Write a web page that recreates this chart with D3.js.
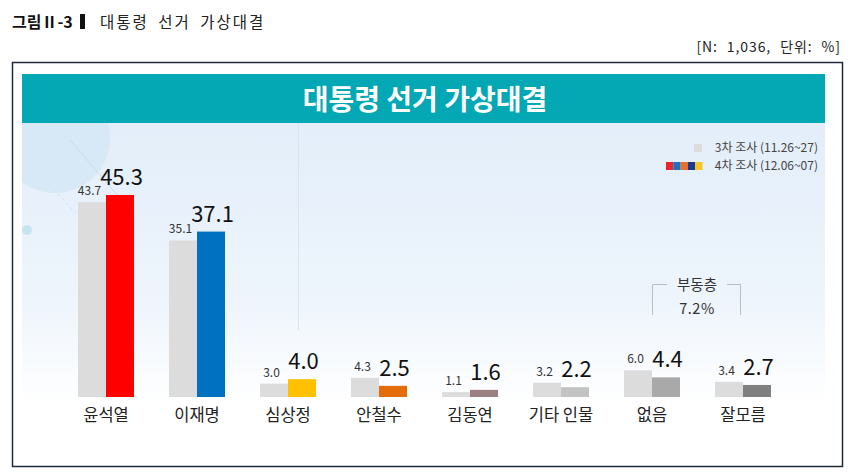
<!DOCTYPE html>
<html>
<head>
<meta charset="utf-8">
<script src="https://cdn.jsdelivr.net/npm/d3@7"></script>
<style>
  body { margin: 0; background: #fff; }
  text { font-family: "Noto Sans CJK KR", "Noto Sans", sans-serif; }
</style>
</head>
<body>
<div id="chart"></div>
<script>
var categories = ["윤석열", "이재명", "심상정", "안철수", "김동연", "기타 인물", "없음", "잘모름"];
var round3 = [43.7, 35.1, 3.0, 4.3, 1.1, 3.2, 6.0, 3.4];
var round4 = [45.3, 37.1, 4.0, 2.5, 1.6, 2.2, 4.4, 2.7];
var round4Colors = ["#ff0000", "#0070c0", "#ffc000", "#e46c0a", "#9b7f83", "#c3c3c3", "#a9a9a9", "#808080"];
var seriesNames = ["3차 조사 (11.26~27)", "4차 조사 (12.06~07)"];
var legendSwatches = ["#e8252a", "#1f6fbf", "#e8702a", "#1c3a8c", "#f6c624"];
var floatingLabel = ["부동층", "7.2%"];

var width = 859, height = 475,
    baseY = 397;

var svg = d3.select("#chart").append("svg")
    .attr("width", width)
    .attr("height", height);

var defs = svg.append("defs");
var grad = defs.append("linearGradient")
    .attr("id", "bg").attr("x1", 0).attr("y1", 0).attr("x2", 0).attr("y2", 1);
grad.append("stop").attr("offset", "0%").attr("stop-color", "#e3eefa");
grad.append("stop").attr("offset", "55%").attr("stop-color", "#eef5fc");
grad.append("stop").attr("offset", "85%").attr("stop-color", "#ffffff");

defs.append("clipPath").attr("id", "plotclip")
  .append("rect").attr("x", 22).attr("y", 123).attr("width", 803).attr("height", 330);

// figure caption
var cap = svg.append("text").attr("x", 12).attr("y", 28).attr("font-size", 16).attr("fill", "#111");
cap.append("tspan").attr("font-weight", "bold").text("그림Ⅱ-3");
svg.append("rect").attr("x", 80).attr("y", 14).attr("width", 5).attr("height", 15).attr("fill", "#111");
svg.append("text").attr("x", 100).attr("y", 28).attr("font-size", 15.5).attr("fill", "#222")
    .attr("letter-spacing", 2).attr("word-spacing", 4)
    .text("대통령 선거 가상대결");

svg.append("text").attr("x", 841).attr("y", 52).attr("text-anchor", "end")
    .attr("font-size", 14).attr("fill", "#222")
    .attr("letter-spacing", 0.9).attr("word-spacing", 5)
    .text("[N: 1,036, 단위: %]");

// frame
svg.append("rect").attr("x", 12.5).attr("y", 62.5).attr("width", 830).attr("height", 404)
    .attr("fill", "#fff").attr("stroke", "#1e2a3a").attr("stroke-width", 1.5);

// plot background
svg.append("rect").attr("x", 22).attr("y", 123).attr("width", 803).attr("height", 330)
    .attr("fill", "url(#bg)");

var deco = svg.append("g").attr("clip-path", "url(#plotclip)");
deco.append("circle").attr("cx", 55).attr("cy", 138).attr("r", 55).attr("fill", "#d3e6f6").attr("opacity", 0.8);
deco.append("circle").attr("cx", 27).attr("cy", 230).attr("r", 5).attr("fill", "#c6e4ef");
deco.append("line").attr("x1", 70).attr("y1", 140).attr("x2", 130).attr("y2", 210)
    .attr("stroke", "#c9dcec").attr("stroke-width", 1);
deco.append("line").attr("x1", 50).attr("y1", 185).attr("x2", 100).attr("y2", 240)
    .attr("stroke", "#d3e2ee").attr("stroke-width", 1).attr("stroke-dasharray", "3,3");
deco.append("line").attr("x1", 298.5).attr("y1", 123).attr("x2", 298.5).attr("y2", 330)
    .attr("stroke", "#d8e5f0").attr("stroke-width", 1);

// header band
svg.append("rect").attr("x", 22).attr("y", 74).attr("width", 803).attr("height", 49).attr("fill", "#04a7b4");
svg.append("text").attr("x", 425).attr("y", 110).attr("text-anchor", "middle")
    .attr("font-size", 28).attr("font-weight", "bold").attr("fill", "#fff")
    .text("대통령 선거 가상대결");

// scales
var x0 = d3.scaleBand()
    .domain(categories)
    .range([60.5, 788.5])
    .paddingInner(35 / 91)
    .paddingOuter(35 / 182);

var x1 = d3.scaleBand()
    .domain(["r3", "r4"])
    .range([0, x0.bandwidth()]);

var y = d3.scaleLinear()
    .domain([0, 45.3])
    .range([baseY, 195]);

var groups = svg.selectAll(".grp")
    .data(categories)
    .enter().append("g")
    .attr("class", "grp")
    .attr("transform", function(d) { return "translate(" + x0(d) + ",0)"; });

groups.append("rect")
    .attr("x", x1("r3"))
    .attr("y", function(d, i) { return y(round3[i]); })
    .attr("width", x1.bandwidth())
    .attr("height", function(d, i) { return baseY - y(round3[i]); })
    .attr("fill", "#dcdcdc");

groups.append("rect")
    .attr("x", x1("r4"))
    .attr("y", function(d, i) { return y(round4[i]); })
    .attr("width", x1.bandwidth())
    .attr("height", function(d, i) { return baseY - y(round4[i]); })
    .attr("fill", function(d, i) { return round4Colors[i]; });

groups.append("text")
    .attr("x", x1("r3") + x1.bandwidth() / 2 - 2.5)
    .attr("y", function(d, i) { return y(round3[i]) - 7; })
    .attr("text-anchor", "middle")
    .attr("font-size", 12)
    .attr("fill", "#333")
    .text(function(d, i) { return round3[i].toFixed(1); });

groups.append("text")
    .attr("x", x1("r4") + x1.bandwidth() / 2 + 1.5)
    .attr("y", function(d, i) { return y(round4[i]) - 10; })
    .attr("text-anchor", "middle")
    .attr("font-size", 22)
    .attr("fill", "#111")
    .text(function(d, i) { return round4[i].toFixed(1); });

groups.append("text")
    .attr("x", x0.bandwidth() / 2)
    .attr("y", 421)
    .attr("text-anchor", "middle")
    .attr("font-size", 16.5)
    .attr("fill", "#222")
    .text(function(d) { return d; });

// legend
var leg = svg.append("g");
leg.append("rect").attr("x", 694).attr("y", 144).attr("width", 8).attr("height", 8).attr("fill", "#dcdcdc");
leg.append("text").attr("x", 818).attr("y", 152).attr("text-anchor", "end")
    .attr("font-size", 12).attr("fill", "#444").text(seriesNames[0]);
leg.selectAll(".sw").data(legendSwatches).enter().append("rect")
    .attr("x", function(d, i) { return 666 + i * 7.3; })
    .attr("y", 162).attr("width", 7.3).attr("height", 8)
    .attr("fill", function(d) { return d; });
leg.append("text").attr("x", 818).attr("y", 170).attr("text-anchor", "end")
    .attr("font-size", 12).attr("fill", "#444").text(seriesNames[1]);

// floating voters bracket
var fb = svg.append("g").attr("stroke", "#bdbdbd").attr("stroke-width", 1).attr("fill", "none");
fb.append("path").attr("d", "M652.5,315V284.5H667");
fb.append("path").attr("d", "M727,284.5H740.5V315");
svg.append("text").attr("x", 697).attr("y", 290).attr("text-anchor", "middle")
    .attr("font-size", 14.5).attr("fill", "#333").text(floatingLabel[0]);
svg.append("text").attr("x", 697).attr("y", 314).attr("text-anchor", "middle")
    .attr("font-size", 14.5).attr("fill", "#333").attr("letter-spacing", 0.5).text(floatingLabel[1]);
</script>
</body>
</html>
